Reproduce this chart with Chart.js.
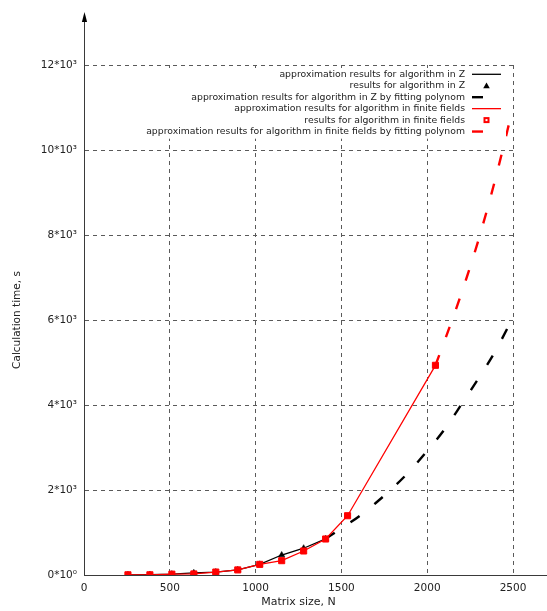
<!DOCTYPE html>
<html>
<head>
<meta charset="utf-8">
<script src="https://cdn.jsdelivr.net/npm/chart.js@4"></script>
<style>
  html, body { margin: 0; padding: 0; background: #fff; }
  #wrap { width: 547px; height: 611px; position: relative; }
</style>
</head>
<body>
<div id="wrap"><canvas id="chart"></canvas></div>
<script>
// Measured calculation times (s) for the algorithm over Z
const sizesZ = [256, 384, 512, 640, 768, 896, 1024, 1152, 1280, 1408];
const timesZ = [5, 10, 20, 50, 70, 120, 250, 470, 630, 850];

// Measured calculation times (s) for the algorithm in finite fields
const sizesFF = [256, 384, 512, 640, 768, 896, 1024, 1152, 1280, 1408, 1536, 2048];
const timesFF = [5, 5, 20, 25, 70, 120, 250, 337, 565, 847, 1395, 4934];

// Fitted polynomial extrapolations
const fitSizesZ = [1408, 1500, 1600, 1700, 1800, 1900, 2000, 2100, 2200, 2300, 2400, 2500];
const fitTimesZ = [850, 1100, 1372, 1695, 2050, 2455, 2920, 3422, 4017, 4632, 5290, 6060];
const fitSizesFF = [2048, 2100, 2200, 2300, 2400, 2500];
const fitTimesFF = [4934, 5496, 6631, 7900, 9360, 11000];

// Axis ticks
const xTicks = [0, 500, 1000, 1500, 2000, 2500];
const xTickLabels = ['0', '500', '1000', '1500', '2000', '2500'];
const yTicks = [0, 2000, 4000, 6000, 8000, 10000, 12000];
const yTickLabels = ['0*10⁰', '2*10³', '4*10³', '6*10³', '8*10³', '10*10³', '12*10³'];

// How far the drawn axis lines reach beyond the gridded region
const xAxisReach = 2700;
const yAxisReach = 13250;

const seriesLabels = [
  'approximation results for algorithm in Z',
  'results for algorithm in Z',
  'approximation results for algorithm in Z by fitting polynom',
  'approximation results for algorithm in finite fields',
  'results for algorithm in finite fields',
  'approximation results for algorithm in finite fields by fitting polynom'
];

const toPoints = (xs, ys) => xs.map((v, i) => ({ x: v, y: ys[i] }));

const FONT = '"DejaVu Sans", Verdana, sans-serif';
const FIT_DASH = [11, 19];

// Extends the axis lines past the plot area and puts an arrow head on the y axis
const axisExtend = {
  id: 'axisExtend',
  afterDraw(chart) {
    const { ctx, scales: { x, y } } = chart;
    const align = p => Math.round(p - 0.5) + 0.5;
    const x0 = align(x.getPixelForValue(0));
    const y0 = align(y.getPixelForValue(0));
    const yTop = y.getPixelForValue(yAxisReach);
    const xEnd = x.getPixelForValue(xAxisReach);
    ctx.save();
    ctx.strokeStyle = '#3a3a3a';
    ctx.lineWidth = 1;
    ctx.beginPath();
    ctx.moveTo(x0, y0);
    ctx.lineTo(x0, yTop + 9);
    ctx.moveTo(x0, y0);
    ctx.lineTo(xEnd, y0);
    ctx.stroke();
    ctx.fillStyle = '#000';
    ctx.beginPath();
    ctx.moveTo(x0, yTop);
    ctx.lineTo(x0 - 2.6, yTop + 10);
    ctx.lineTo(x0 + 2.6, yTop + 10);
    ctx.closePath();
    ctx.fill();
    ctx.restore();
  }
};

// Key in the upper right of the plot: text right-aligned, sample to its right
const keyBox = {
  id: 'keyBox',
  afterDatasetsDraw(chart) {
    const { ctx, chartArea } = chart;
    const datasets = chart.data.datasets;
    const textRight = chartArea.right - 48;
    const sampleL = chartArea.right - 41;
    const sampleR = chartArea.right - 12;
    const sampleMid = (sampleL + sampleR) / 2;
    const firstRow = chartArea.top + 9.3;
    const rowStep = 11.45;
    ctx.save();
    ctx.font = '9.3px ' + FONT;
    let maxW = 0;
    datasets.forEach(ds => { maxW = Math.max(maxW, ctx.measureText(ds.label).width); });
    const boxL = textRight - maxW - 4;
    const boxT = chartArea.top + 3;
    ctx.fillStyle = '#fff';
    ctx.fillRect(boxL, boxT, sampleR + 5 - boxL, rowStep * datasets.length + 2);

    datasets.forEach((ds, i) => {
      const yRow = firstRow + i * rowStep;
      ctx.fillStyle = '#222';
      ctx.textAlign = 'right';
      ctx.textBaseline = 'middle';
      ctx.fillText(ds.label, textRight, yRow);
      if (ds.showLine) {
        ctx.strokeStyle = ds.borderColor;
        ctx.lineWidth = ds.borderWidth;
        ctx.beginPath();
        const end = ds.borderDash ? sampleL + ds.borderDash[0] : sampleR;
        ctx.moveTo(sampleL, yRow);
        ctx.lineTo(end, yRow);
        ctx.stroke();
      } else if (ds.pointStyle === 'triangle') {
        ctx.fillStyle = ds.backgroundColor;
        ctx.beginPath();
        ctx.moveTo(sampleMid, yRow - 3.2);
        ctx.lineTo(sampleMid - 3.3, yRow + 2.4);
        ctx.lineTo(sampleMid + 3.3, yRow + 2.4);
        ctx.closePath();
        ctx.fill();
      } else {
        ctx.fillStyle = ds.backgroundColor;
        ctx.fillRect(sampleMid - 3, yRow - 3, 6, 6);
        ctx.fillStyle = '#fff';
        ctx.fillRect(sampleMid - 1, yRow - 1, 2, 2);
      }
    });
    ctx.restore();
  }
};

const ctx = document.getElementById('chart').getContext('2d');
new Chart(ctx, {
  type: 'scatter',
  data: {
    datasets: [
      {
        label: seriesLabels[0],
        data: toPoints(sizesZ, timesZ),
        showLine: true,
        borderColor: '#000',
        borderWidth: 1.3,
        pointRadius: 0,
        order: 5
      },
      {
        label: seriesLabels[1],
        data: toPoints(sizesZ, timesZ),
        showLine: false,
        pointStyle: 'triangle',
        pointRadius: 3.6,
        backgroundColor: '#000',
        borderColor: '#000',
        pointBorderWidth: 0.5,
        order: 4
      },
      {
        label: seriesLabels[2],
        data: toPoints(fitSizesZ, fitTimesZ),
        showLine: true,
        borderColor: '#000',
        borderWidth: 2.4,
        borderDash: FIT_DASH,
        cubicInterpolationMode: 'monotone',
        pointRadius: 0,
        order: 3
      },
      {
        label: seriesLabels[3],
        data: toPoints(sizesFF, timesFF),
        showLine: true,
        borderColor: '#ff0000',
        borderWidth: 1.3,
        pointRadius: 0,
        order: 2
      },
      {
        label: seriesLabels[4],
        data: toPoints(sizesFF, timesFF),
        showLine: false,
        pointStyle: 'rect',
        pointRadius: 4.3,
        backgroundColor: '#ff0000',
        borderColor: '#ff0000',
        pointBorderWidth: 1,
        order: 0
      },
      {
        label: seriesLabels[5],
        data: toPoints(fitSizesFF, fitTimesFF),
        showLine: true,
        borderColor: '#ff0000',
        borderWidth: 2.4,
        borderDash: FIT_DASH,
        cubicInterpolationMode: 'monotone',
        pointRadius: 0,
        order: 1
      }
    ]
  },
  options: {
    responsive: true,
    maintainAspectRatio: false,
    animation: false,
    devicePixelRatio: 1,
    layout: { padding: { top: 65, right: 34, left: 0, bottom: 0 } },
    plugins: {
      legend: { display: false },
      tooltip: { enabled: false }
    },
    scales: {
      x: {
        type: 'linear',
        min: xTicks[0],
        max: xTicks[xTicks.length - 1],
        afterBuildTicks: s => { s.ticks = xTicks.map(v => ({ value: v })); },
        afterFit: s => { s.height = 36; },
        ticks: {
          color: '#222',
          font: { family: FONT, size: 10.5 },
          padding: 7,
          maxRotation: 0,
          callback: v => xTickLabels[xTicks.indexOf(v)]
        },
        grid: { color: '#5a5a5a', lineWidth: 1, drawTicks: false },
        border: { display: true, color: '#3a3a3a', width: 1, dash: [4, 4] },
        title: {
          display: true,
          text: 'Matrix size, N',
          color: '#222',
          font: { family: FONT, size: 11 },
          padding: { top: 0, bottom: 2 }
        }
      },
      y: {
        type: 'linear',
        min: yTicks[0],
        max: yTicks[yTicks.length - 1],
        afterBuildTicks: s => { s.ticks = yTicks.map(v => ({ value: v })); },
        afterFit: s => { s.width = 84; },
        ticks: {
          color: '#222',
          font: { family: FONT, size: 10.5 },
          padding: 7,
          callback: v => yTickLabels[yTicks.indexOf(v)]
        },
        grid: { color: '#5a5a5a', lineWidth: 1, drawTicks: false },
        border: { display: true, color: '#3a3a3a', width: 1, dash: [4, 4] },
        title: {
          display: true,
          text: 'Calculation time, s',
          color: '#222',
          font: { family: FONT, size: 10.5 },
          padding: { top: 10.5, bottom: 0 }
        }
      }
    }
  },
  plugins: [axisExtend, keyBox]
});
</script>
</body>
</html>
